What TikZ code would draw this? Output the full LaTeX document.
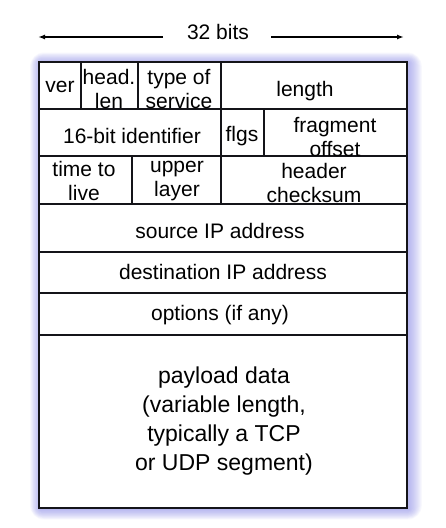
\documentclass[tikz,border=0pt]{standalone}
\usepackage{fontspec}
\setmainfont{Liberation Sans}
\usetikzlibrary{arrows.meta}
\definecolor{glow}{RGB}{120,120,225}
\definecolor{ink}{RGB}{20,20,25}
\begin{document}
\begin{tikzpicture}[x=1pt,y=-1pt,
  cell/.style={align=center,inner sep=0pt,font=\fontsize{21}{24.5}\selectfont},
  big/.style={align=center,inner sep=0pt,font=\fontsize{23}{29}\selectfont},
  rule/.style={line width=2pt,draw=ink},
  dimarrow/.style={line width=1.6pt,-{Latex[length=7pt,width=5pt]}}]
\useasboundingbox (0,0) rectangle (445,528);
% glow
\foreach \i in {1,...,14}{
  \fill[glow,opacity=0.05,rounded corners=\i pt] (39+1.5-\i*0.75,62+1-\i*0.75) rectangle (407+1.5+\i*0.95,508+1+\i*0.75);
}
\fill[white] (39,62) rectangle (407,508);
% width label
\node[cell] (bits) at (218,32) {32 bits};
\coordinate (la) at (38,37);
\coordinate (ra) at (404,37);
\draw[dimarrow] (163,37) -- (la);
\draw[dimarrow] (271,37) -- (ra);
% frame and rules
\draw[rule] (39,62) rectangle (407,508);
\draw[rule] (39,109) -- (407,109);
\draw[rule] (39,156) -- (407,156);
\draw[rule] (39,204) -- (407,204);
\draw[rule] (39,252) -- (407,252);
\draw[rule] (39,293) -- (407,293);
\draw[rule] (39,335) -- (407,335);
\draw[rule] (81,62) -- (81,109);
\draw[rule] (138,62) -- (138,109);
\draw[rule] (221,62) -- (221,204);
\draw[rule] (264,109) -- (264,156);
\draw[rule] (132,156) -- (132,204);
% texts
\node[cell] (ver) at (60,87) {ver};
\node[cell] (hl) at (109,89) {head.\\len};
\node[cell] (tos) at (179,89) {type of\\service};
\node[cell] (len) at (305,91) {length};
\node[cell] (id) at (132,136) {16-bit identifier};
\node[cell] (flg) at (242,136) {flgs};
\node[cell] (frag) at (335,137) {fragment\\offset};
\node[cell] (ttl) at (84,181) {time to\\live};
\node[cell] (up) at (177,181) {upper\\layer};
\node[cell] (cks) at (314,183) {header\\checksum};
\node[cell] (src) at (220,231) {source IP address};
\node[cell] (dst) at (223,272) {destination IP address};
\node[cell] (opt) at (220,315) {options (if any)};
\node[big] (pay) at (224,421) {payload data\\ (variable length,\\typically a TCP \\ or UDP segment)};
\end{tikzpicture}
\end{document}
